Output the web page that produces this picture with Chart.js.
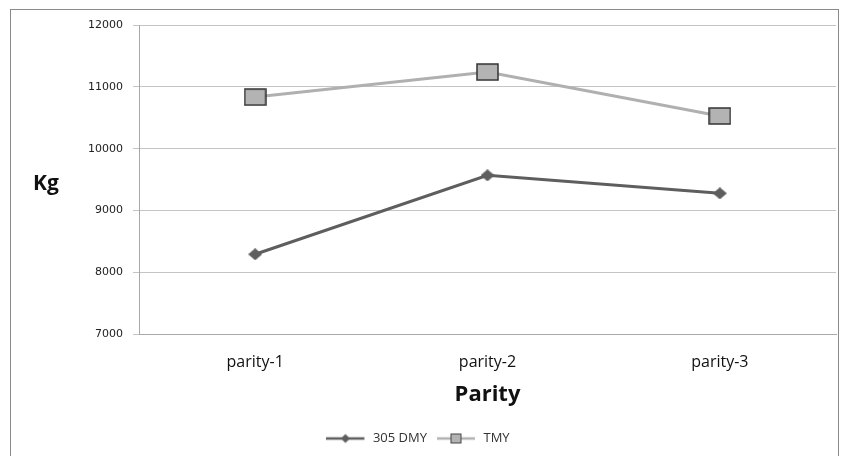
<!DOCTYPE html>
<html>
<head>
<meta charset="utf-8">
<script src="https://cdn.jsdelivr.net/npm/chart.js@4.4.0/dist/chart.umd.min.js"></script>
<style>
  html, body { margin: 0; padding: 0; background: #fff; }
  #wrap { position: relative; width: 843px; height: 456px; }
  #frame { position: absolute; left: 10px; top: 9px; width: 829px; height: 460px; border: 1px solid #8a8a8a; box-sizing: border-box; }
  canvas { position: absolute; left: 0; top: 0; }
</style>
</head>
<body>
<div id="wrap">
  <div id="frame"></div>
  <canvas id="myChart" width="843" height="456"></canvas>
</div>
<script>
const categories = ['parity-1', 'parity-2', 'parity-3'];
const dmy = [8295, 9570, 9280];
const tmy = [10835, 11240, 10530];
const seriesNames = ['305 DMY', 'TMY'];

// marker glyphs
function makeMarker(kind) {
    const c = document.createElement('canvas');
    if (kind === 'square') {
        c.width = 23; c.height = 18;
        const g = c.getContext('2d');
        g.fillStyle = '#b3b3b3';
        g.fillRect(1, 1, 21, 16);
        g.strokeStyle = '#333';
        g.lineWidth = 1.5;
        g.strokeRect(1, 1, 21, 16);
    } else {
        c.width = 14; c.height = 12;
        const g = c.getContext('2d');
        g.fillStyle = '#5e5e5e';
        g.beginPath();
        g.moveTo(7, 0); g.lineTo(14, 6); g.lineTo(7, 12); g.lineTo(0, 6);
        g.closePath(); g.fill();
    }
    return c;
}
function makeLegendGlyph(kind, color) {
    const c = document.createElement('canvas');
    c.width = 40; c.height = 12;
    const g = c.getContext('2d');
    g.strokeStyle = color;
    g.lineWidth = 2.5;
    g.beginPath(); g.moveTo(0, 6); g.lineTo(38, 6); g.stroke();
    if (kind === 'square') {
        g.fillStyle = '#b3b3b3';
        g.fillRect(14, 1.5, 10, 9);
        g.strokeStyle = '#444'; g.lineWidth = 1;
        g.strokeRect(14, 1.5, 10, 9);
    } else {
        g.fillStyle = '#5e5e5e';
        g.beginPath();
        g.moveTo(19, 1.5); g.lineTo(23.5, 6); g.lineTo(19, 10.5); g.lineTo(14.5, 6);
        g.closePath(); g.fill();
    }
    return c;
}

const diamond = makeMarker('diamond');
const square = makeMarker('square');
const legendGlyphs = [makeLegendGlyph('diamond', '#5e5e5e'), makeLegendGlyph('square', '#b0b0b0')];

const kgTitle = {
    id: 'kgTitle',
    afterDraw(chart) {
        const ctx = chart.ctx;
        ctx.save();
        ctx.font = 'bold 21px "Open Sans"';
        ctx.fillStyle = '#111';
        ctx.textAlign = 'left';
        ctx.textBaseline = 'middle';
        ctx.fillText('Kg', 33, 184);
        ctx.restore();
    }
};

const ctx = document.getElementById('myChart').getContext('2d');
const myChart = new Chart(ctx, {
    type: 'line',
    data: {
        labels: categories,
        datasets: [{
            label: seriesNames[0],
            data: dmy,
            borderColor: '#5e5e5e',
            borderWidth: 3,
            pointStyle: diamond,
            pointRadius: 7
        }, {
            label: seriesNames[1],
            data: tmy,
            borderColor: '#b0b0b0',
            borderWidth: 3,
            pointStyle: square,
            pointRadius: 11
        }]
    },
    options: {
        responsive: false,
        animation: false,
        devicePixelRatio: 1,
        layout: { autoPadding: false, padding: { left: 0, right: 7, top: 25, bottom: 1 } },
        plugins: {
            tooltip: { enabled: false },
            legend: {
                position: 'bottom',
                labels: {
                    usePointStyle: true,
                    pointStyleWidth: 40,
                    boxHeight: 12,
                    color: '#333',
                    font: { family: '"Open Sans"', size: 13 },
                    padding: 10,
                    generateLabels(chart) {
                        return chart.data.datasets.map((d, i) => ({
                            text: d.label,
                            pointStyle: legendGlyphs[i],
                            fillStyle: 'transparent',
                            strokeStyle: 'transparent',
                            lineWidth: 0,
                            datasetIndex: i,
                            fontColor: '#333'
                        }));
                    }
                }
            }
        },
        scales: {
            y: {
                min: 7000,
                max: 12000,
                afterFit(scale) { scale.width = 139; },
                ticks: {
                    stepSize: 1000,
                    color: '#222',
                    padding: 10,
                    font: { family: '"DejaVu Sans"', size: 11 },
                    callback: (v) => String(v)
                },
                grid: { color: '#c4c4c4', lineWidth: 1, tickLength: 6 },
                border: { color: '#a8a8a8' }
            },
            x: {
                offset: true,
                afterFit(scale) { scale.paddingLeft = 0; scale.paddingRight = 0; },
                grid: { display: false },
                border: { color: '#a8a8a8' },
                ticks: {
                    color: '#111',
                    padding: 10,
                    font: { family: '"Open Sans"', size: 16 }
                },
                title: {
                    display: true,
                    text: 'Parity',
                    color: '#111',
                    padding: { top: 0, bottom: 14 },
                    font: { family: '"Open Sans"', size: 22, weight: 'bold' }
                }
            }
        }
    },
    plugins: [kgTitle]
});
</script>
</body>
</html>
